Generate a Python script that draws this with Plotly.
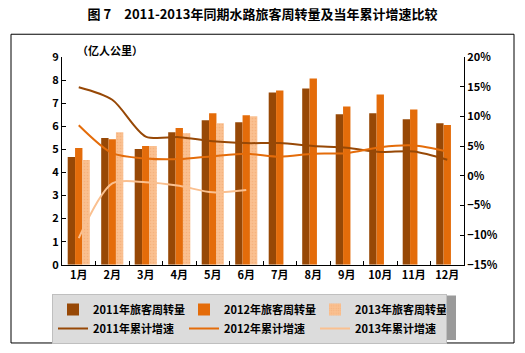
import plotly.graph_objects as go

months = ["1月", "2月", "3月", "4月", "5月", "6月", "7月", "8月", "9月", "10月", "11月", "12月"]
vol_2011 = [4.67, 5.49, 5.01, 5.74, 6.26, 6.17, 7.46, 7.64, 6.52, 6.56, 6.30, 6.13]
vol_2012 = [5.06, 5.44, 5.14, 5.92, 6.56, 6.48, 7.55, 8.07, 6.86, 7.38, 6.73, 6.05]
vol_2013 = [4.54, 5.74, 5.14, 5.70, 6.13, 6.43, None, None, None, None, None, None]
gr_2011 = [14.9, 12.8, 6.6, 6.5, 5.8, 5.5, 5.5, 5.0, 4.7, 4.0, 4.1, 2.7]
gr_2012 = [8.5, 3.8, 2.9, 2.8, 3.3, 3.7, 3.2, 3.7, 3.8, 4.8, 5.1, 4.1]
gr_2013 = [-10.5, -1.3, -1.1, -1.7, -2.8, -2.4, None, None, None, None, None, None]

C11 = "#974806"
C12 = "#E46C0A"
C13 = "#FAC090"

W, H = 525, 353
L, R, T, B = 62, 464, 57, 267  # plot area pixels


def px(x):
    return (x - L) / (R - L)


def py(y):
    return (B - y) / (B - T)


font_cjk = "Noto Sans CJK SC, SimSun, sans-serif"
fig = go.Figure()
fig.add_trace(go.Bar(x=months, y=vol_2011, name="2011年旅客周转量", marker=dict(color=C11, line=dict(width=0))))
fig.add_trace(go.Bar(x=months, y=vol_2012, name="2012年旅客周转量", marker=dict(color=C12, line=dict(width=0))))
fig.add_trace(go.Bar(x=months, y=vol_2013, name="2013年旅客周转量",
                     marker=dict(color=C13, line=dict(width=0),
                                 pattern=dict(shape=".", size=3, solidity=0.25, fgcolor="#EFA46A", bgcolor=C13))))
fig.add_trace(go.Scatter(x=months, y=gr_2011, name="2011年累计增速", yaxis="y2", mode="lines",
                         line=dict(color=C11, width=2, shape="spline", smoothing=0.8)))
fig.add_trace(go.Scatter(x=months, y=gr_2012, name="2012年累计增速", yaxis="y2", mode="lines",
                         line=dict(color=C12, width=2, shape="spline", smoothing=0.8)))
fig.add_trace(go.Scatter(x=months, y=gr_2013, name="2013年累计增速", yaxis="y2", mode="lines",
                         line=dict(color=C13, width=2, shape="spline", smoothing=0.8)))

tickfont = dict(family=font_cjk, size=11, color="black", weight="bold")
fig.update_layout(
    width=W, height=H,
    margin=dict(l=L, r=W - R, t=T, b=H - B),
    paper_bgcolor="white", plot_bgcolor="white",
    barmode="group", bargap=0.34, bargroupgap=0,
    showlegend=True,
    title=dict(text="图 7　2011-2013年同期水路旅客周转量及当年累计增速比较", x=0.5, xanchor="center",
               y=1 - 14 / H, yanchor="middle",
               font=dict(family=font_cjk, size=13, color="black", weight="bold")),
    xaxis=dict(type="category", showline=True, linecolor="black", linewidth=1, ticks="inside",
               tickson="boundaries", ticklen=4, tickcolor="black", tickfont=tickfont, showgrid=False),
    yaxis=dict(range=[0, 9], dtick=1, showline=True, linecolor="black", linewidth=1, ticks="inside",
               ticklen=4, tickcolor="black", tickfont=tickfont, showgrid=False, zeroline=False),
    yaxis2=dict(range=[-15, 20], dtick=5, ticksuffix="%", overlaying="y", side="right", showline=True,
                linecolor="black", linewidth=1, ticks="inside", ticklen=4, tickcolor="black",
                tickfont=tickfont, showgrid=False, zeroline=False),
    legend=dict(orientation="h", xref="container", yref="container", x=52 / W, y=1 - 294 / H,
                xanchor="left", yanchor="top",
                bgcolor="#DCDCDC", bordercolor="#BFBFBF", borderwidth=1,
                entrywidth=86, entrywidthmode="pixels", tracegroupgap=0,
                font=dict(family=font_cjk, size=11, color="black", weight="bold"),
                itemwidth=30),
    annotations=[dict(text="（亿人公里）", xref="paper", yref="paper", x=px(75), y=py(50),
                      xanchor="left", yanchor="middle", showarrow=False,
                      font=dict(family=font_cjk, size=11, color="black", weight="bold"))],
    shapes=[
        dict(type="rect", xref="paper", yref="paper", x0=px(11), x1=px(514), y0=py(346), y1=py(34),
             line=dict(color="black", width=1), fillcolor="rgba(0,0,0,0)", layer="below"),
        dict(type="rect", xref="paper", yref="paper", x0=px(56), x1=px(456), y0=py(343), y1=py(298),
             line=dict(width=0), fillcolor="#9A9A9A", layer="above"),
    ],
)

fig.write_html("out.html")
